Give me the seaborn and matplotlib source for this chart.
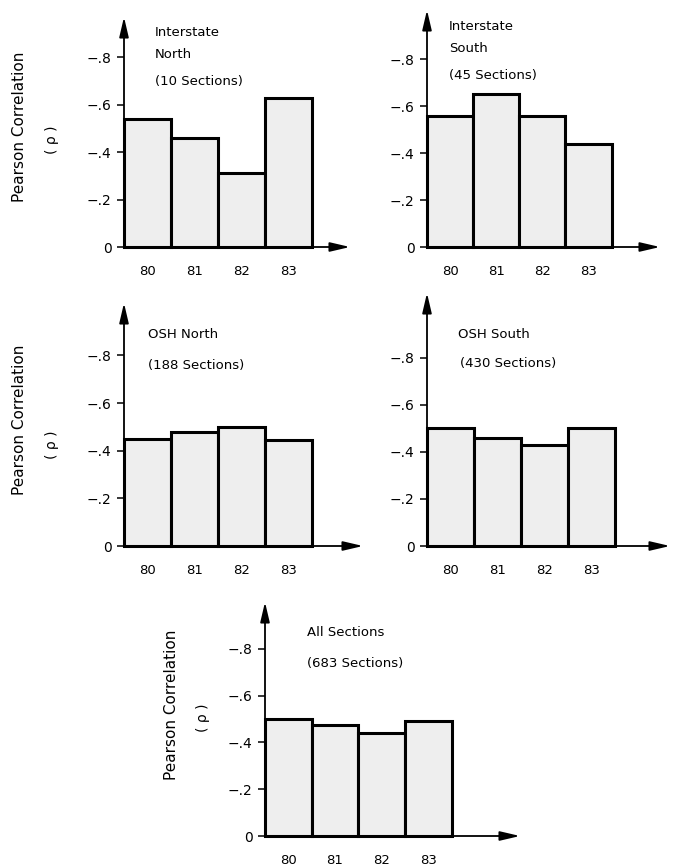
import matplotlib
matplotlib.use("Agg")
import matplotlib.pyplot as plt
import seaborn as sns
import pandas as pd

# ---- data ----
years = ["80", "81", "82", "83"]
interstate_north = [-0.54, -0.46, -0.31, -0.63]
interstate_south = [-0.56, -0.65, -0.56, -0.44]
osh_north = [-0.45, -0.48, -0.50, -0.445]
osh_south = [-0.50, -0.46, -0.43, -0.50]
all_sections = [-0.50, -0.475, -0.44, -0.49]
ytick_values = [0, -0.2, -0.4, -0.6, -0.8]
ytick_labels = ["0", "\u2212.2", "\u2212.4", "\u2212.6", "\u2212.8"]
ylabel_main = "Pearson Correlation"
ylabel_sub = "( \u03c1 )"

sns.set_style("white")
plt.rcParams["font.family"] = ["DejaVu Sans"]
plt.rcParams["text.color"] = "black"

W, H = 674, 867
fig = plt.figure(figsize=(W / 100, H / 100), dpi=100)


def px_text(x, y, s, **kw):
    fig.text(x / W, 1 - y / H, s, **kw)


def add_ax(left, top, right, bottom):
    return fig.add_axes([left / W, 1 - bottom / H, (right - left) / W, (bottom - top) / H])


panels = [
    dict(vals=interstate_north, box=(124, 17, 350, 247), ytop=0.97, xr=4.31,
         texts=[(155, 32, "Interstate"), (155, 54, "North"), (155, 81, "(10 Sections)")],
         ylab=((20, 127), (52, 140))),
    dict(vals=interstate_south, box=(427, 10, 660, 247), ytop=1.01, xr=4.55,
         texts=[(449, 27, "Interstate"), (449, 48, "South"), (449, 76, "(45 Sections)")],
         ylab=None),
    dict(vals=osh_north, box=(124, 303, 363, 546), ytop=1.02, xr=4.58,
         texts=[(148, 335, "OSH North"), (148, 366, "(188 Sections)")],
         ylab=((20, 420), (52, 445))),
    dict(vals=osh_south, box=(427, 293, 670, 546), ytop=1.075, xr=4.67,
         texts=[(458, 335, "OSH South"), (460, 363, "(430 Sections)")],
         ylab=None),
    dict(vals=all_sections, box=(265, 602, 520, 836), ytop=1.0, xr=4.96,
         texts=[(307, 633, "All Sections"), (307, 663, "(683 Sections)")],
         ylab=((172, 705), (203, 718))),
]

for p in panels:
    ax = add_ax(*p["box"])
    df = pd.DataFrame({"year": years, "rho": p["vals"]})
    sns.barplot(data=df, x="year", y="rho", ax=ax, color="#eeeeee", saturation=1,
                edgecolor="black", linewidth=2.2, width=1.0, errorbar=None)
    for patch in ax.patches:
        patch.set_clip_on(False)
    ax.set_ylim(0, -p["ytop"])
    ax.set_xlim(-0.5, p["xr"])
    for sp in ax.spines.values():
        sp.set_visible(False)
    ax.set_yticks(ytick_values, ytick_labels)
    ax.tick_params(axis="y", left=True, length=5, width=1.1, direction="out", pad=4,
                   labelsize=10, colors="black")
    ax.tick_params(axis="x", bottom=False, length=0, pad=13, labelsize=9.5, colors="black")
    ax.set_xlabel("")
    ax.set_ylabel("")
    ax.patch.set_alpha(0)
    arrow = dict(arrowstyle="-|>,head_length=1.2,head_width=0.28", color="black",
                 lw=1.3, shrinkA=0, shrinkB=0)
    ax.annotate("", xy=(1, 0), xytext=(0, 0), xycoords="axes fraction",
                arrowprops=arrow, annotation_clip=False)
    ax.annotate("", xy=(0, 1), xytext=(0, 0), xycoords="axes fraction",
                arrowprops=arrow, annotation_clip=False)
    for (x, y, s) in p["texts"]:
        px_text(x, y, s, fontsize=9.5, va="center", ha="left")
    if p["ylab"]:
        (x1, y1), (x2, y2) = p["ylab"]
        px_text(x1, y1, ylabel_main, fontsize=11, rotation=90, ha="center", va="center")
        px_text(x2, y2, ylabel_sub, fontsize=10, rotation=90, ha="center", va="center")

fig.savefig("out.png", dpi=100, facecolor="white")
